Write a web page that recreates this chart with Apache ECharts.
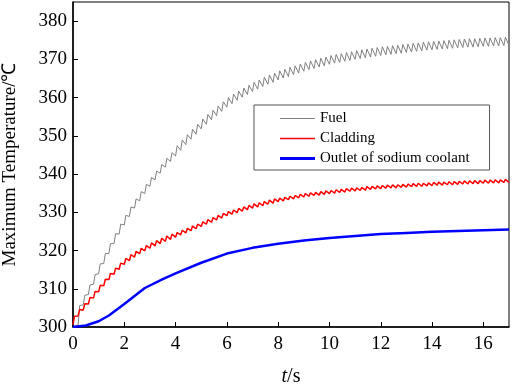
<!DOCTYPE html>
<html>
<head>
<meta charset="utf-8">
<script src="https://cdn.jsdelivr.net/npm/echarts@6/dist/echarts.min.js"></script>
<style>
  html, body { margin: 0; padding: 0; background: #fff; }
  #chart { width: 512px; height: 389px; }
</style>
</head>
<body>
<div id="chart"></div>
<script>
// time step of the oscillation (s) and where the peak sits inside each step
var period = 0.2;
var riseTime = 0.06;

// fuel: trough at the start of each step, peak just after it
var fuelLow = [300.0, 300.6, 305.8, 308.5, 311.2, 313.9, 316.6, 319.2, 321.8, 324.3,
  326.7, 328.9, 331.1, 333.0, 334.9, 336.8, 338.5, 340.2, 341.8, 343.3,
  344.7, 346.2, 347.7, 349.1, 350.4, 351.8, 353.0, 354.2, 355.3, 356.4,
  357.5, 358.4, 359.3, 360.1, 360.8, 361.6, 362.2, 362.9, 363.5, 364.0,
  364.6, 365.1, 365.5, 366.0, 366.4, 366.9, 367.3, 367.6, 368.0, 368.3,
  368.7, 369.0, 369.2, 369.5, 369.7, 370.0, 370.2, 370.4, 370.6, 370.8,
  371.0, 371.2, 371.3, 371.5, 371.6, 371.8, 371.9, 372.1, 372.2, 372.4,
  372.5, 372.6, 372.7, 372.8, 372.9, 373.0, 373.1, 373.2, 373.2, 373.3,
  373.4, 373.4, 373.5, 373.5, 373.6, 373.6];
var fuelHigh = [300.4, 305.6, 308.3, 311.0, 313.7, 316.5, 319.2, 321.8, 324.4, 326.9,
  329.2, 331.4, 333.5, 335.4, 337.3, 339.1, 340.8, 342.5, 344.1, 345.6,
  347.4, 348.9, 350.3, 351.7, 353.0, 354.4, 355.6, 356.7, 357.8, 358.9,
  360.0, 360.9, 361.7, 362.5, 363.2, 364.0, 364.6, 365.3, 365.9, 366.4,
  367.0, 367.4, 367.9, 368.3, 368.8, 369.2, 369.6, 369.9, 370.3, 370.6,
  371.0, 371.3, 371.5, 371.8, 372.0, 372.3, 372.5, 372.7, 372.9, 373.1,
  373.3, 373.4, 373.6, 373.7, 373.9, 374.0, 374.2, 374.3, 374.5, 374.6,
  374.7, 374.8, 374.9, 375.0, 375.1, 375.2, 375.3, 375.4, 375.4, 375.5,
  375.6, 375.6, 375.7, 375.7, 375.8];

// cladding
var cladLow = [300.6, 302.9, 304.4, 306.0, 307.6, 309.2, 310.8, 312.4, 313.8, 315.1,
  316.4, 317.4, 318.3, 319.2, 319.9, 320.6, 321.2, 321.8, 322.4, 322.9,
  323.5, 324.1, 324.6, 325.2, 325.7, 326.3, 326.9, 327.4, 328.0, 328.5,
  329.1, 329.5, 329.9, 330.3, 330.7, 331.1, 331.4, 331.7, 332.1, 332.4,
  332.8, 333.0, 333.3, 333.5, 333.8, 334.0, 334.2, 334.4, 334.5, 334.7,
  334.9, 335.0, 335.2, 335.3, 335.5, 335.6, 335.7, 335.8, 336.0, 336.1,
  336.2, 336.3, 336.4, 336.4, 336.5, 336.6, 336.7, 336.8, 336.8, 336.9,
  337.0, 337.1, 337.1, 337.2, 337.2, 337.3, 337.4, 337.4, 337.5, 337.5,
  337.6, 337.6, 337.7, 337.7, 337.8, 337.8];
var cladHigh = [302.8, 304.6, 306.1, 307.7, 309.3, 310.9, 312.5, 314.0, 315.4, 316.7,
  317.9, 318.9, 319.8, 320.6, 321.3, 322.0, 322.6, 323.2, 323.8, 324.3,
  324.7, 325.3, 325.8, 326.4, 326.9, 327.5, 328.1, 328.6, 329.2, 329.7,
  330.2, 330.6, 331.0, 331.4, 331.8, 332.2, 332.5, 332.8, 333.2, 333.5,
  333.7, 333.9, 334.2, 334.4, 334.7, 334.9, 335.1, 335.2, 335.4, 335.6,
  335.7, 335.9, 336.0, 336.2, 336.3, 336.4, 336.5, 336.7, 336.8, 336.9,
  337.0, 337.1, 337.2, 337.2, 337.3, 337.4, 337.5, 337.6, 337.6, 337.7,
  337.8, 337.9, 337.9, 338.0, 338.0, 338.1, 338.2, 338.2, 338.3, 338.3,
  338.4, 338.4, 338.5, 338.5, 338.6];

// outlet of sodium coolant (smooth)
var outletT = [0, 0.5, 1, 1.4, 2, 2.8, 3.5, 4, 5, 6, 7, 8, 9, 10, 11, 12, 13, 14, 15, 16, 17];
var outletV = [300, 300.4, 301.5, 303.0, 306.0, 310.2, 312.5, 314.0, 316.8, 319.2, 320.7,
  321.8, 322.6, 323.3, 323.8, 324.3, 324.6, 324.9, 325.1, 325.3, 325.5];

var seriesNames = ['Fuel', 'Cladding', 'Outlet of sodium coolant'];
var xTicks = { min: 0, max: 17, interval: 2 };
var yTicks = { min: 300, max: 385, interval: 10 };

function teeth(low, high) {
  var pts = [];
  for (var k = 0; k < low.length; k++) {
    var t = +(k * period).toFixed(2);
    pts.push([t, low[k]]);
    if (k < high.length) pts.push([+(t + riseTime).toFixed(2), high[k]]);
  }
  return pts;
}

var outletData = outletT.map(function (t, i) { return [t, outletV[i]]; });

var font = 'Liberation Serif';
var chart = echarts.init(document.getElementById('chart'));
var option = {
  animation: false,
  backgroundColor: '#fff',
  grid: {
    left: 73, right: 3, top: 2, bottom: 62,
    outerBoundsMode: 'none',
    containLabel: false,
    show: true, borderColor: '#000', borderWidth: 1
  },
  legend: {
    orient: 'vertical',
    left: 254, top: 105,
    padding: [6, 20, 4, 26],
    itemGap: 5,
    itemWidth: 35,
    itemHeight: 14,
    borderColor: '#555',
    borderWidth: 1,
    selectedMode: false,
    // plain line samples, thickness as in each series
    data: [
      { name: seriesNames[0], icon: 'path://M0,0H35V1H0Z' },
      { name: seriesNames[1], icon: 'path://M0,0H35V1.6H0Z' },
      { name: seriesNames[2], icon: 'path://M0,0H35V3H0Z' }
    ],
    textStyle: { fontFamily: font, fontSize: 15, color: '#000' }
  },
  xAxis: {
    type: 'value',
    min: xTicks.min, max: xTicks.max, interval: xTicks.interval,
    name: '{i|t}/s',
    nameLocation: 'middle',
    nameGap: 40,
    nameTextStyle: {
      fontFamily: font, fontSize: 20, color: '#000',
      rich: { i: { fontFamily: font, fontSize: 20, fontStyle: 'italic', color: '#000' } }
    },
    axisLine: { lineStyle: { color: '#000', width: 1.5 } },
    axisTick: { inside: true, length: 5, lineStyle: { color: '#000' } },
    axisLabel: { fontFamily: font, fontSize: 19, color: '#000', margin: 8, showMaxLabel: false },
    splitLine: { show: false }
  },
  yAxis: {
    type: 'value',
    min: yTicks.min, max: yTicks.max, interval: yTicks.interval,
    name: 'Maximum Temperature/℃',
    nameLocation: 'middle',
    nameGap: 53,
    nameTextStyle: { fontFamily: font, fontSize: 19, color: '#000' },
    axisLine: { lineStyle: { color: '#000', width: 1.5 } },
    axisTick: { inside: true, length: 5, lineStyle: { color: '#000' } },
    axisLabel: { fontFamily: font, fontSize: 19, color: '#000', margin: 6, showMaxLabel: false },
    splitLine: { show: false }
  },
  series: [
    {
      name: seriesNames[0], type: 'line', symbol: 'none',
      data: teeth(fuelLow, fuelHigh),
      lineStyle: { color: '#808080', width: 1 },
      itemStyle: { color: '#808080' }
    },
    {
      name: seriesNames[1], type: 'line', symbol: 'none',
      data: teeth(cladLow, cladHigh),
      lineStyle: { color: '#ff0000', width: 1.5 },
      itemStyle: { color: '#ff0000' }
    },
    {
      name: seriesNames[2], type: 'line', symbol: 'none',
      data: outletData,
      lineStyle: { color: '#0000ff', width: 2.5 },
      itemStyle: { color: '#0000ff' }
    }
  ]
};
chart.setOption(option);
</script>
</body>
</html>
